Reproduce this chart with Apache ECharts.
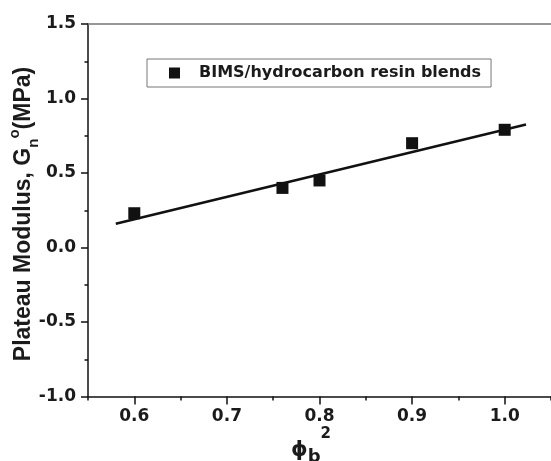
<!DOCTYPE html>
<html>
<head>
<meta charset="utf-8">
<script src="https://cdn.jsdelivr.net/npm/echarts@6/dist/echarts.min.js"></script>
<style>
  html, body { margin: 0; padding: 0; background: #fff; }
  #chart { width: 551px; height: 461px; }
</style>
</head>
<body>
<div id="chart"></div>
<script>
// Measured blends: squared volume fraction vs plateau modulus (MPa)
const phiB2 = [0.6, 0.76, 0.8, 0.9, 1.0];
const plateauModulus = [0.23, 0.40, 0.45, 0.70, 0.79];

// Linear fit drawn through the points (end points of the fitted line)
const fitX = [0.58, 1.023];
const fitY = [0.16, 0.825];

// Axis ticks
const xMajorTicks = [0.6, 0.7, 0.8, 0.9, 1.0];
const xMinorTicks = [0.55, 0.65, 0.75, 0.85, 0.95, 1.05];
const seriesName = 'BIMS/hydrocarbon resin blends';

const FONT = '"DejaVu Sans", "Liberation Sans", Arial, sans-serif';
const TITLE_FONT = '"Liberation Sans", Arial, sans-serif';
const INK = '#1b1b1b';

const chart = echarts.init(document.getElementById('chart'), null, { renderer: 'canvas' });

chart.setOption({
  animation: false,
  backgroundColor: '#ffffff',
  grid: { left: 88, top: 24, right: 0, bottom: 64.5, containLabel: false },
  legend: {
    left: 147, top: 59,
    width: 344,
    padding: [6, 10, 6, 22],
    borderColor: '#777',
    borderWidth: 1,
    itemWidth: 11, itemHeight: 11,
    icon: 'rect',
    data: [seriesName],
    textStyle: {
      fontFamily: FONT, fontWeight: 'bold', fontSize: 16, color: INK,
      padding: [0, 0, 0, 14]
    }
  },
  xAxis: [
    {
      type: 'value', min: 0.55, max: 1.05, position: 'bottom',
      axisLine: { show: true, onZero: false, lineStyle: { color: '#111', width: 1.5 } },
      axisTick: { show: true, length: 8, customValues: xMajorTicks, lineStyle: { color: '#111', width: 1.5 } },
      axisLabel: {
        customValues: xMajorTicks, margin: 12,
        formatter: v => v.toFixed(1),
        fontFamily: FONT, fontWeight: 'bold', fontSize: 17, color: INK
      },
      splitLine: { show: false }
    },
    {
      type: 'value', min: 0.55, max: 1.05, position: 'bottom',
      axisLine: { show: false, onZero: false },
      axisTick: { show: true, length: 4, customValues: xMinorTicks, lineStyle: { color: '#111', width: 1.5 } },
      axisLabel: { show: false },
      splitLine: { show: false }
    },
    {
      type: 'value', min: 0.55, max: 1.05, position: 'top',
      axisLine: { show: true, onZero: false, lineStyle: { color: '#777', width: 1.5 } },
      axisTick: { show: false },
      axisLabel: { show: false },
      splitLine: { show: false }
    }
  ],
  yAxis: {
    type: 'value', min: -1, max: 1.5, interval: 0.5,
    axisLine: { show: true, onZero: false, lineStyle: { color: '#111', width: 1.5 } },
    axisTick: { show: true, length: 7, lineStyle: { color: '#111', width: 1.5 } },
    minorTick: { show: true, splitNumber: 2, length: 3.5, lineStyle: { color: '#111', width: 1.5 } },
    axisLabel: {
      margin: 12,
      formatter: v => v.toFixed(1),
      fontFamily: FONT, fontWeight: 'bold', fontSize: 17, color: INK
    },
    splitLine: { show: false }
  },
  graphic: [
    {
      // y-axis title, reads bottom to top
      type: 'text',
      x: 24, y: 214,
      rotation: Math.PI / 2,
      style: {
        text: '{m|Plateau Modulus, G}{s|n}{p|o}{m|(MPa)}',
        align: 'center', verticalAlign: 'middle',
        fill: INK,
        rich: {
          m: { fontFamily: TITLE_FONT, fontWeight: 'bold', fontSize: 23, lineHeight: 34, verticalAlign: 'middle', fill: INK },
          s: { fontFamily: TITLE_FONT, fontWeight: 'bold', fontSize: 15, lineHeight: 14, verticalAlign: 'bottom', fill: INK },
          p: { fontFamily: TITLE_FONT, fontWeight: 'bold', fontSize: 15, lineHeight: 20, verticalAlign: 'top', fill: INK }
        }
      }
    },
    {
      // x-axis title
      type: 'text',
      x: 311, y: 451,
      style: {
        text: '{m|\u03D5}{s|b}{p|2}',
        align: 'center', verticalAlign: 'middle',
        fill: INK,
        rich: {
          m: { fontFamily: FONT, fontWeight: 'bold', fontSize: 21, lineHeight: 48, verticalAlign: 'middle', fill: INK },
          s: { fontFamily: FONT, fontWeight: 'bold', fontSize: 18, lineHeight: 34, padding: [0, 0, 9, 0], verticalAlign: 'bottom', fill: INK },
          p: { fontFamily: FONT, fontWeight: 'bold', fontSize: 15, lineHeight: 4, verticalAlign: 'top', fill: INK }
        }
      }
    }
  ],
  series: [
    {
      name: seriesName,
      type: 'scatter',
      xAxisIndex: 0,
      symbol: 'rect',
      symbolSize: 12,
      itemStyle: { color: '#111', opacity: 1 },
      data: phiB2.map((x, i) => [x, plateauModulus[i]]),
      z: 3
    },
    {
      name: 'fit',
      type: 'line',
      xAxisIndex: 0,
      showSymbol: false,
      symbol: 'none',
      lineStyle: { color: '#111', width: 2.5 },
      data: fitX.map((x, i) => [x, fitY[i]]),
      z: 2
    }
  ]
});
</script>
</body>
</html>
